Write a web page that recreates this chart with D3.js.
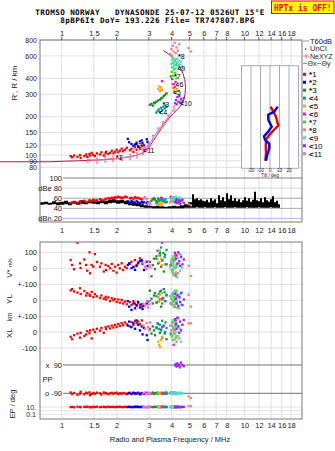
<!DOCTYPE html>
<html><head><meta charset="utf-8">
<script src="https://cdn.jsdelivr.net/npm/d3@7/dist/d3.min.js"></script>
<style>
html,body{margin:0;padding:0;background:#fff;}
svg{display:block;}
text{font-family:"Liberation Sans",Arial,sans-serif;fill:#222;}
.mono{font-family:"DejaVu Sans Mono","Liberation Mono",monospace;font-weight:bold;}
</style></head><body>
<svg id="c" width="335" height="451"></svg>
<script>
// ---------- DATA ----------
const freqTicks = [1,1.5,2,3,4,5,6,7,8,10,12,14,16,18];
const heightTicks = [800,600,400,300,200,150,120,100,90,80];
const dbTicks = [100,80,60,40,20];
const dbTickLabels = ["100","dBe 80","60","40","dBn 20"];
const tiltTicks = [-20,-10,0,10,20];
const echoIds = ["1","2","3","4","5","6","7","8","9","10","11"];
const echoSymbols = ["*","*","*","<","<","<","*","*","<","<","<"];
const echoColors = ["#ff0000","#0000ff","#228b22","#009c9c","#ffa500","#ff00ff","#22ee00","#f08080","#40e0d0","#a020f0","#ff69b4"];

// tuples: [freq MHz, height km, amplitude dB, V* m/s, YL km, XL km, PP deg, EP deg]
const echo1 = [
 [1.12,98,50,52,62,-30,-85,9],[1.14,96,52,21,70,-45,-95,11],[1.17,99,53,-6,55,-20,-88,8],
 [1.22,97,51,160,48,-10,-100,12],[1.26,100,54,31,75,-35,-92,10],[1.27,95,50,2,40,-5,-80,9],
 [1.33,98,55,55,58,-25,-97,11],[1.36,101,53,21,30,-15,-86,10],[1.38,97,52,-15,45,5,-90,12],
 [1.42,102,56,100,35,-8,-84,9],[1.43,99,54,-31,28,10,-102,10],[1.46,104,55,21,52,-40,-95,8],
 [1.49,100,57,10,20,15,-88,11],[1.52,98,55,89,38,0,-93,10],[1.56,103,56,40,25,20,-86,12],
 [1.62,101,58,10,15,8,-90,9],[1.65,105,57,31,30,25,-98,10],[1.70,99,56,-20,10,-5,-85,11],
 [1.74,103,59,21,22,30,-92,10],[1.75,106,58,-11,5,18,-88,9],[1.80,102,60,14,18,35,-95,12],
 [1.84,104,59,0,-5,22,-90,10],[1.88,108,61,27,12,40,-87,11],[1.92,103,60,-15,0,28,-94,10],
 [1.96,106,62,10,8,45,-90,9],[2.00,110,61,-27,-10,32,-86,11],[2.04,105,63,21,5,50,-96,10],
 [2.08,108,62,0,-15,38,-89,12],[2.13,112,60,31,2,55,-93,10],[2.17,107,61,-11,-20,42,-88,9],
 [2.22,110,63,10,-8,60,-91,11],[2.27,114,62,0,-25,48,-95,10],[2.36,109,60,27,-12,35,-87,10],
 [2.41,112,61,41,-30,62,-92,11],[2.47,106,59,10,-5,45,-89,9],[2.52,115,62,52,-20,70,-94,10],
 [2.57,110,60,21,-35,55,-90,12],[2.62,117,61,31,-15,65,-86,10],[2.68,112,59,62,-28,50,-92,11],
 [2.75,118,58,45,-40,72,-88,10]
];
const echo2 = [
 [2.30,134,54,21,-5,40,-92,10],[2.34,126,52,31,-40,65,-88,11],[2.41,122,55,0,-60,30,-95,9],
 [2.47,118,53,8,-20,55,-86,10],[2.52,121,51,-10,-50,20,-90,12],[2.57,125,54,15,-30,72,-93,10],
 [2.62,116,52,35,-10,45,-88,11],[2.68,128,50,45,-45,10,-97,9],[2.74,130,53,52,-25,35,-91,10],
 [2.77,124,51,27,-55,-15,-89,11],[2.82,119,52,-11,-35,25,-94,10],[2.92,133,50,41,-20,-20,-87,9],
 [2.95,127,52,14,-8,-50,-92,10]
];
const echo3 = [
 [3.04,248,52,40,60,20,-88,10],[3.10,252,55,-50,10,-10,-92,11],[3.15,244,58,20,-20,35,-85,9],
 [3.20,258,60,60,30,10,-95,10],[3.24,255,57,-5,45,-20,-90,12],[3.30,262,54,75,-15,25,-87,10],
 [3.37,268,59,30,20,50,-93,11],[3.45,272,56,95,55,-5,-89,9],[3.50,278,61,10,-40,15,-94,10],
 [3.55,282,58,50,5,-35,-88,11],[3.62,290,55,-20,70,40,-91,10],[3.68,296,53,85,-5,0,-86,12],
 [3.75,305,52,25,35,-45,-92,10]
];
const echo4 = [
 [3.30,215,50,60,25,30,-90,10],[3.35,222,52,110,-10,55,-86,11],[3.40,228,55,35,40,20,-93,9],
 [3.45,218,57,80,5,45,-88,10],[3.50,235,59,130,60,10,-91,12],[3.55,225,54,50,-20,70,-87,10],
 [3.60,240,56,95,15,35,-94,11],[3.66,232,52,70,50,-10,-89,10],[3.70,245,58,25,-5,60,-92,9],
 [3.75,238,53,115,30,25,-85,10]
];
const echo5 = [
 [3.38,330,47,80,20,-60,-90,10],[3.42,345,50,40,-10,-80,-88,11],[3.45,318,46,110,35,-95,-93,9],
 [3.50,338,52,60,5,-50,-87,10],[3.54,325,48,20,45,-30,-91,12],[4.02,360,55,30,-15,60,-89,10],
 [4.08,335,53,-10,25,20,-92,11],[4.12,320,57,55,-30,-5,-86,10],[4.18,345,52,90,10,40,-94,9],
 [4.22,312,56,-25,50,-25,-90,10],[4.28,330,54,15,-45,85,-88,11]
];
const echo6 = [
 [3.54,380,60,160,10,30,-90,10],[3.95,415,63,20,-20,-10,-85,9],[4.02,395,58,-15,40,50,-93,11],
 [4.10,360,62,50,5,-80,-88,10],[4.15,340,55,75,-40,15,-92,12],[4.20,375,57,-40,20,70,-87,10]
];
const echo7 = [
 [3.98,410,55,30,10,-20,-90,10],[4.00,450,57,-10,-25,40,-86,11],[4.03,490,54,60,30,10,-93,9],
 [4.06,420,58,15,-10,-50,-89,10],[4.08,530,56,-30,45,25,-91,12],[4.12,470,53,45,-40,65,-87,10],
 [4.15,560,55,5,20,-5,-94,11],[4.18,440,57,80,-5,35,-88,10],[4.22,510,52,-50,60,-35,-92,9],
 [4.25,400,54,20,-20,55,-90,10]
];
const echo8 = [
 [3.92,620,52,10,25,40,-90,10],[3.98,680,55,50,-15,10,-87,11],[4.02,600,58,-20,40,-30,-93,9],
 [4.06,720,54,35,5,70,-88,10],[4.10,650,57,-45,-30,20,-91,12],[4.15,760,53,70,55,-10,-86,10],
 [4.20,630,56,0,-5,50,-94,11],[4.25,700,52,25,15,-60,-89,10],[4.32,660,55,-30,-45,30,-92,9],
 [4.40,740,51,90,30,-40,-88,10],[4.95,690,48,16,35,54,-110,17],[5.10,650,46,-48,-40,54,-120,16]
];
const echo9 = [
 [3.98,520,58,40,30,10,-90,10],[4.02,560,61,-5,-10,50,-87,11],[4.05,490,56,75,45,-20,-93,9],
 [4.08,580,60,20,10,75,-88,10],[4.12,505,62,-30,-35,30,-91,12],[4.15,545,57,100,60,-45,-86,10],
 [4.20,480,59,55,-20,60,-94,11],[4.24,530,63,10,25,0,-89,10],[4.28,570,58,-55,-5,40,-92,9],
 [4.32,500,60,65,40,-25,-88,10],[4.38,550,56,30,-50,85,-90,11],[4.44,515,61,-15,15,20,-85,10],
 [4.50,540,58,85,-25,-60,-93,9],[4.56,495,55,5,50,45,-89,10]
];
const echo10 = [
 [4.18,255,52,95,40,80,88,10],[4.22,270,55,60,10,50,95,9],[4.26,250,58,80,-20,20,80,11],
 [4.30,285,50,30,30,90,100,10],[4.35,262,53,100,-35,35,85,12],[4.40,290,56,45,20,-5,92,10],
 [4.45,258,49,15,-10,65,75,9],[4.50,275,54,70,45,10,105,10],[4.58,265,57,25,-30,45,90,11],
 [4.66,280,51,55,5,75,82,10]
];
const echo11 = [
 [2.80,112,60,30,-20,40,-90,10],[2.86,115,62,10,-35,20,-85,9],[2.92,110,58,-5,-10,55,-95,11],
 [2.97,118,50,45,-45,30,-88,10],[3.02,114,48,20,-25,10,-92,12],[3.05,121,52,5,-5,60,-89,10]
];
const echoes = [echo1,echo2,echo3,echo4,echo5,echo6,echo7,echo8,echo9,echo10,echo11];
// echo label anchor [freq, height]
const echoLabelPos = [[2.03,96],[2.59,118],[3.65,248],[3.50,216],[4.17,310],[4.30,360],[4.22,415],[4.44,590],[4.40,475],[4.55,255],[2.86,108]];

// true-height profile [freq, height]
const profileF = [0.45,0.86,1.05,1.21,1.6,2.0,2.37,2.6,2.79,2.9,3.04,3.16,3.33,3.52,3.68,3.92,4.1,4.26,4.45,4.63,4.73,4.76,4.72,4.6,4.4,4.2,3.9,3.6];
const profileH = [88.5,88.5,89.5,90,91.5,93.5,97,100,104,108,118,128,144,163,178,200,212,226,240,263,300,340,390,440,500,550,610,665];
// NeXYZ trace
const nexyzF = [1.39,1.56,1.73,1.91,2.14,2.37,2.58,2.79,2.97,3.16,3.37,3.58,3.82,4.12];
const nexyzH = [92,90.5,92.5,93.5,95,97,99.5,105,118,136,156,175,197,232];

// tilt profiles [height, deg]
const tiltXH = [240,219,200,170,158,144,132,117,104,90];
const tiltXV = [0.7,3.5,6.3,8.7,4.2,-0.7,-4.2,-4.5,-4.2,-5];
const tiltYH = [240,219,207,189,167,153,140,132,122,113,100.5,90];
const tiltYV = [8.1,4.5,-1.8,-1.8,1.8,-1.8,-6.3,-5.3,-0.7,-0.7,-2.8,-4.2];

// noise (dB) vs frequency
const noiseF = [0.761,0.80,0.841,0.885,0.931,0.979,1.03,1.083,1.139,1.198,1.26,1.325,1.393,1.465,1.541,1.62,1.704,1.792,1.885,1.982,2.084,2.193,2.306,2.425,2.55,2.682,2.82,2.967,3.12,3.28,3.45,3.63,3.82,4.02,4.22,4.44,4.67,4.91,
 5.04,5.17,5.30,5.43,5.57,5.71,5.86,6.01,6.16,6.32,6.48,6.65,6.82,6.99,7.17,7.35,7.54,7.73,7.93,8.13,8.34,8.55,8.77,8.99,9.22,9.46,9.70,9.95,10.20,10.46,10.73,11.00,11.28,11.57,11.87,12.17,12.48,12.80,13.13,13.46,13.81,14.16,14.52,14.89,15.27,15.66];
const noiseHi = [52,53,51,54,52,53,55,52,54,53,56,54,55,57,54,56,55,57,58,56,57,55,53,52,50,48,46,45,44,45,44,43,44,45,44,46,48,52,
 52,68,58,60,56,58,55,54,57,52,60,55,58,50,66,56,62,54,70,58,66,55,60,54,58,52,56,62,55,60,53,57,73,56,54,60,52,62,56,53,58,64,52,55,48,46];
const noiseLo = [47,48,47,48,46,47,48,46,49,47,49,48,50,49,48,50,48,50,51,49,50,48,46,45,44,42,41,41,40,40,40,40,40,40,40,40,41,41,
 41,41,41,42,41,41,41,42,41,41,41,41,42,41,41,41,41,42,41,41,41,41,42,41,41,41,41,41,42,41,41,41,41,41,42,41,41,41,41,41,42,41,41,41,41,41];

// lower panel tick labels
const ppTicks = [90,-90];
const ppTickLabels = ["x  90","o -90"];
const epTicks = [10,0.1];
const epTickLabels = ["10.","0.1"];

// ---------- SCALES ----------
const svg = d3.select("#c");
const L=40,R=302,T1=40,B1=222,T2=242,B2=419;
const fScale = d3.scaleLog().domain([0.761,20.66]).range([L,R]);
const hScale = d3.scaleLog().domain([66,800]).range([178,T1]);
const dbScale = d3.scaleLinear().domain([13,100]).range([B1,178]);
const vScale = d3.scaleLinear().domain([-100,100]).range([284.3,252.3]);
const ylScale = d3.scaleLinear().domain([-100,100]).range([316.3,284.3]);
const xlScale = d3.scaleLinear().domain([-100,100]).range([348,316]);
const ppScale = d3.scaleLinear().domain([-90,90]).range([393.3,365]);
const epScale = d3.scaleLog().domain([0.1,10]).range([414.3,407]);
const tiltScale = d3.scaleLinear().domain([-30,30]).range([241.5,298.5]);

svg.append("rect").attr("width",335).attr("height",451).attr("fill","#fff");

const defs = svg.append("defs");
defs.append("clipPath").attr("id","cp1").append("rect").attr("x",L).attr("y",T1).attr("width",R-L).attr("height",178-T1);
defs.append("clipPath").attr("id","cpdb").append("rect").attr("x",L).attr("y",178).attr("width",R-L).attr("height",B1-178);
defs.append("clipPath").attr("id","cp2").append("rect").attr("x",L).attr("y",T2).attr("width",R-L).attr("height",B2-T2);

// ---------- GRID ----------
const grid = svg.append("g");
freqTicks.forEach(t=>{
  grid.append("line").attr("x1",fScale(t)).attr("x2",fScale(t)).attr("y1",T1).attr("y2",B1).attr("stroke","#e0e0e0");
  grid.append("line").attr("x1",fScale(t)).attr("x2",fScale(t)).attr("y1",T2).attr("y2",B2).attr("stroke","#e0e0e0");
});
heightTicks.forEach(h=>{
  grid.append("line").attr("x1",L).attr("x2",R).attr("y1",hScale(h)).attr("y2",hScale(h)).attr("stroke","#e0e0e0");
});
const dbLineColors = ["#808080","#d4d4d4","#a8a8a8","#a8a8a8","#b4b4e4"];
dbTicks.forEach((d,i)=>{
  grid.append("line").attr("x1",63).attr("x2",R).attr("y1",dbScale(d)).attr("y2",dbScale(d)).attr("stroke",dbLineColors[i]);
});
[[vScale,100],[vScale,0],[vScale,-100],[ylScale,0],[ylScale,-100],[xlScale,0],[xlScale,-100]].forEach(([s,v])=>{
  grid.append("line").attr("x1",L).attr("x2",R).attr("y1",s(v)).attr("y2",s(v)).attr("stroke","#e0e0e0");
});
ppTicks.forEach(p=>{
  grid.append("line").attr("x1",63).attr("x2",R).attr("y1",ppScale(p)).attr("y2",ppScale(p)).attr("stroke","#707070");
});
[10,1,0.1].forEach(e=>{
  grid.append("line").attr("x1",L).attr("x2",R).attr("y1",epScale(e)).attr("y2",epScale(e)).attr("stroke","#e4e4e4");
});

// ---------- NOISE ----------
const noise = noiseF.map((f,i)=>({f,hi:noiseHi[i],lo:noiseLo[i]}));
svg.append("path").datum(noise).attr("clip-path","url(#cpdb)")
  .attr("d",d3.area().x(d=>fScale(d.f)).y0(d=>dbScale(d.lo)).y1(d=>dbScale(d.hi)).curve(d3.curveStepAfter))
  .attr("fill","#000");

// ---------- TILT INSET ----------
const inset = svg.append("g");
inset.append("rect").attr("x",tiltScale(-30)).attr("y",65.7).attr("width",tiltScale(30)-tiltScale(-30)).attr("height",102.6)
  .attr("fill","#fff").attr("stroke","#aab");
tiltTicks.forEach(t=>{
  inset.append("line").attr("x1",tiltScale(t)).attr("x2",tiltScale(t)).attr("y1",65.7).attr("y2",168.3).attr("stroke","#aab");
  inset.append("text").attr("x",tiltScale(t)).attr("y",172.3).attr("text-anchor","middle").attr("font-size",4.6).text(String(t));
});
inset.append("text").attr("x",tiltScale(0)).attr("y",176.6).attr("text-anchor","middle").attr("font-size",4.6).text("Tilt / deg");
const tiltLine = d3.line().x(d=>tiltScale(d[1])).y(d=>hScale(d[0]));
inset.append("path").datum(tiltXH.map((h,i)=>[h,tiltXV[i]])).attr("d",tiltLine).attr("fill","none").attr("stroke","#ee0000").attr("stroke-width",2.4);
inset.append("path").datum(tiltYH.map((h,i)=>[h,tiltYV[i]])).attr("d",tiltLine).attr("fill","none").attr("stroke","#0000ee").attr("stroke-width",2.4);

// ---------- PROFILE & NEXYZ ----------
const pline = d3.line().x(d=>fScale(d[0])).y(d=>hScale(d[1]));
svg.append("path").datum(profileF.map((f,i)=>[f,profileH[i]])).attr("d",pline)
  .attr("fill","none").attr("stroke","#b8164a").attr("stroke-width",1);
const nx = nexyzF.map((f,i)=>[f,nexyzH[i]]);
svg.append("path").datum(nx).attr("d",pline).attr("fill","none").attr("stroke","#f070a8").attr("stroke-width",1);
svg.append("g").selectAll("path").data(nx).join("path")
  .attr("d",d=>{const x=fScale(d[0]),y=hScale(d[1]);return `M${x-1.2},${y-2.5}H${x+1.2}M${x},${y-2.5}V${y+2.5}M${x-1.2},${y+2.5}H${x+1.2}`;})
  .attr("stroke","#f070a8").attr("stroke-width",1).attr("fill","none");

// ---------- ECHO POINTS ----------
const S=2.3;
const gH = svg.append("g").attr("clip-path","url(#cp1)");
const gD = svg.append("g").attr("clip-path","url(#cpdb)");
const gL = svg.append("g").attr("clip-path","url(#cp2)");
function pts(g,data,color,fy){
  g.append("g").selectAll("rect").data(data).join("rect")
   .attr("x",d=>fScale(d[0])-S/2).attr("y",d=>fy(d)-S/2).attr("width",S).attr("height",S).attr("fill",color);
}
echoes.forEach((e,i)=>{
  const c=echoColors[i];
  pts(gH,e,c,d=>hScale(d[1]));
  pts(gD,e,c,d=>dbScale(d[2]));
  pts(gL,e,c,d=>vScale(d[3]));
  pts(gL,e,c,d=>ylScale(d[4]));
  pts(gL,e,c,d=>xlScale(d[5]));
  pts(gL,e,c,d=>ppScale(d[6]));
  pts(gL,e,c,d=>epScale(d[7]));
});

// echo labels
echoLabelPos.forEach((p,i)=>{
  const t=svg.append("text").attr("x",fScale(p[0])-2).attr("y",hScale(p[1])+2.6).attr("font-size",7).style("fill","#000");
  t.append("tspan").attr("font-weight","bold").text(echoSymbols[i]);
  t.append("tspan").text(echoIds[i]);
});

// ---------- FRAMES ----------
svg.append("rect").attr("x",L).attr("y",T1).attr("width",R-L).attr("height",B1-T1).attr("fill","none").attr("stroke","#7a7a7a");
svg.append("rect").attr("x",L).attr("y",T2).attr("width",R-L).attr("height",B2-T2).attr("fill","none").attr("stroke","#7a7a7a");

// ---------- AXES ----------
function fAxis(y){
  const g=svg.append("g").attr("transform",`translate(0,${y})`)
   .call(d3.axisTop(fScale).tickValues(freqTicks).tickFormat(d=>String(d)).tickSize(0).tickPadding(0));
  g.select(".domain").remove();
  g.selectAll("text").attr("font-size",7.5).attr("font-family","Liberation Sans, Arial, sans-serif").style("fill","#222").attr("dy","0.35em");
}
fAxis(33); fAxis(230.5); fAxis(425.5);
freqTicks.forEach(t=>{
  svg.append("line").attr("x1",fScale(t)).attr("x2",fScale(t)).attr("y1",37).attr("y2",40).attr("stroke","#555");
});
const hAx = svg.append("g").attr("transform","translate(37,0)")
  .call(d3.axisLeft(hScale).tickValues(heightTicks).tickFormat(d=>String(d)).tickSize(0).tickPadding(0));
hAx.select(".domain").remove();
hAx.selectAll("text").attr("font-size",7).attr("font-family","Liberation Sans, Arial, sans-serif").style("fill","#222");

dbTicks.forEach((d,i)=>{
  svg.append("text").attr("x",62).attr("y",dbScale(d)+2.6).attr("text-anchor","end").attr("font-size",7.5).text(dbTickLabels[i]);
});
function lowLab(y,t){svg.append("text").attr("x",37).attr("y",y+2.6).attr("text-anchor","end").attr("font-size",7.5).text(t);}
lowLab(vScale(100),"100"); lowLab(vScale(0),"0"); lowLab(vScale(-100),"+-100");
lowLab(ylScale(0),"0"); lowLab(ylScale(-100),"+-100");
lowLab(xlScale(0),"0"); lowLab(xlScale(-100),"-100");
ppTicks.forEach((p,i)=>{
  svg.append("text").attr("x",62).attr("y",ppScale(p)+2.6).attr("text-anchor","end").attr("font-size",7.5).attr("xml:space","preserve").text(ppTickLabels[i]);
});
svg.append("text").attr("x",42.5).attr("y",381.5).attr("font-size",7.5).text("PP");
epTicks.forEach((e,i)=>{
  svg.append("text").attr("x",36).attr("y",epScale(e)+2.6).attr("text-anchor","end").attr("font-size",7).text(epTickLabels[i]);
});

// axis titles
function vtext(x,y,t,fs){
  svg.append("text").attr("transform",`translate(${x},${y}) rotate(-90)`).attr("text-anchor","middle")
   .attr("font-size",fs).text(t);
}
vtext(17,83,"R', R / km",8);
const vs = svg.append("text").attr("transform","translate(12,268) rotate(-90)").attr("text-anchor","middle").attr("font-size",8);
vs.append("tspan").text("V* ");
vs.append("tspan").attr("font-size",5.5).text("m/s");
vtext(12,299,"YL",8);
vtext(12,317,"km",6.5);
vtext(12,333,"XL",8);
vtext(15,404,"EP / deg",7.5);
svg.append("text").attr("x",170).attr("y",441.5).attr("text-anchor","middle").attr("font-size",7.5).text("Radio and Plasma Frequency / MHz");

// ---------- TITLE ----------
svg.append("text").attr("class","mono").attr("x",150).attr("y",14.6).attr("text-anchor","middle").attr("font-size",7.6)
  .attr("letter-spacing",0.42).attr("xml:space","preserve").style("fill","#000").text("TROMSO NORWAY   DYNASONDE 25-07-12 0526UT 15°E");
svg.append("text").attr("class","mono").attr("x",157.5).attr("y",23).attr("text-anchor","middle").attr("font-size",7.6)
  .attr("letter-spacing",0.42).style("fill","#000").text("8pBP6It DoY= 193.226 File= TR747807.BPG");
svg.append("rect").attr("x",271.5).attr("y",1).attr("width",62.5).attr("height",12.5).attr("fill","#ffff00").attr("stroke","#ff0000");
svg.append("text").attr("class","mono").attr("x",302.8).attr("y",10.6).attr("text-anchor","middle").attr("font-size",8)
  .style("fill","#ff0000").text("HPTx is OFF!");

// ---------- LEGEND ----------
const lg = svg.append("g");
lg.append("line").attr("x1",303).attr("x2",309).attr("y1",41).attr("y2",41).attr("stroke","#999");
lg.append("text").attr("x",310).attr("y",43.5).attr("font-size",7.5).text("T60dB");
lg.append("rect").attr("x",305).attr("y",48.5).attr("width",1.2).attr("height",1.2).attr("fill","#000");
lg.append("text").attr("x",310).attr("y",51.3).attr("font-size",7.5).text("UnCl");
lg.append("line").attr("x1",303).attr("x2",309).attr("y1",56).attr("y2",56).attr("stroke","#f070a8");
lg.append("line").attr("x1",306).attr("x2",306).attr("y1",53.5).attr("y2",58.5).attr("stroke","#f070a8");
lg.append("text").attr("x",310).attr("y",58.5).attr("font-size",7).text("NeXYZ");
lg.append("line").attr("x1",303).attr("x2",307).attr("y1",63.5).attr("y2",63.5).attr("stroke","#f08080");
lg.append("text").attr("x",307.5).attr("y",66).attr("font-size",7).text("Θx");
lg.append("line").attr("x1",317).attr("x2",321).attr("y1",63.5).attr("y2",63.5).attr("stroke","#8080f0");
lg.append("text").attr("x",321.5).attr("y",66).attr("font-size",7).text("Θy");
echoIds.forEach((id,i)=>{
  const y=74.3+7.94*i;
  lg.append("rect").attr("x",303).attr("y",y-1.5).attr("width",3).attr("height",3).attr("fill",echoColors[i]);
  const t=lg.append("text").attr("x",309).attr("y",y+3).attr("font-size",8).style("fill","#000");
  t.append("tspan").attr("font-weight","bold").text(echoSymbols[i]);
  t.append("tspan").text(id);
});
</script>
</body></html>
